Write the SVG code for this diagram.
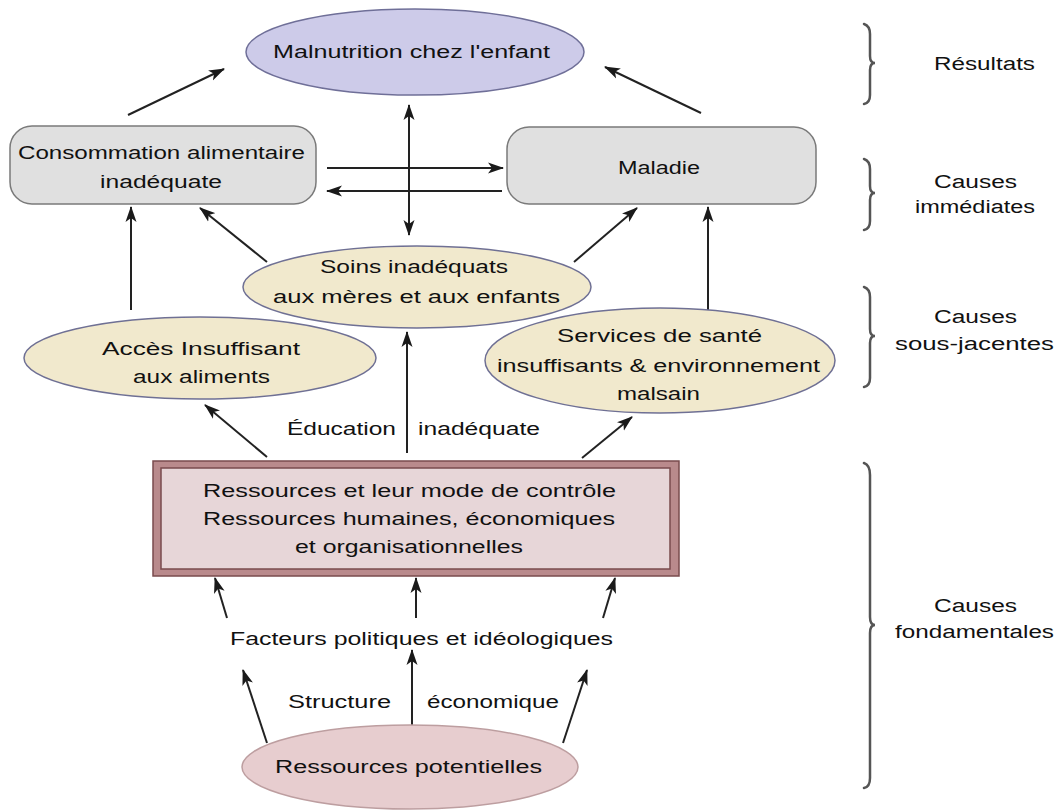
<svg xmlns="http://www.w3.org/2000/svg" width="1062" height="810" viewBox="0 0 1062 810">
<style>
text{font-family:"Liberation Sans",Arial,sans-serif;font-size:17.5px;fill:#111;text-anchor:middle}
.lbl{font-size:18px}
.st{text-anchor:start}
.gray{fill:#e0e0e0;stroke:#7a7a7a;stroke-width:1.5}
.beige{fill:#f1e9cd;stroke:#6f7094;stroke-width:1.5}
.arr{stroke:#222;stroke-width:2;fill:none;marker-end:url(#ah)}
.brace{fill:none;stroke:#555;stroke-width:2.5;stroke-linecap:round}
</style>
<defs>
<marker id="ah" markerUnits="userSpaceOnUse" markerWidth="16" markerHeight="12" viewBox="0 0 16 12" refX="15" refY="6" orient="auto-start-reverse">
<path d="M0,0.5 L16,6 L0,11.5 L4,6 Z" fill="#1a1a1a"/>
</marker>
</defs>
<rect width="1062" height="810" fill="#ffffff"/>

<g id="connectors">
<line class="arr" x1="128" y1="115" x2="224" y2="69"/>
<line class="arr" x1="701" y1="113" x2="605" y2="67"/>
<line class="arr" x1="409" y1="235" x2="409" y2="105" marker-start="url(#ah)"/>
<line class="arr" x1="327" y1="168" x2="503" y2="168"/>
<line class="arr" x1="502" y1="191" x2="327" y2="191"/>
<line class="arr" x1="131" y1="310" x2="131" y2="207"/>
<line class="arr" x1="267" y1="262" x2="200" y2="208"/>
<line class="arr" x1="574" y1="262" x2="637" y2="208"/>
<line class="arr" x1="708" y1="310" x2="708" y2="207"/>
<line class="arr" x1="407" y1="453" x2="407" y2="332"/>
<line class="arr" x1="267" y1="457" x2="205" y2="405"/>
<line class="arr" x1="582" y1="458" x2="632" y2="417"/>
<line class="arr" x1="227" y1="618" x2="215" y2="578"/>
<line class="arr" x1="416" y1="618" x2="416" y2="578"/>
<line class="arr" x1="603" y1="618" x2="615" y2="578"/>
<line class="arr" x1="267" y1="743" x2="243" y2="670"/>
<line class="arr" x1="412" y1="725" x2="412" y2="650"/>
<line class="arr" x1="563" y1="743" x2="587" y2="670"/>
</g>

<g id="malnutrition">
<ellipse cx="415" cy="52" rx="169" ry="43" fill="#cdcbe9" stroke="#6f6f98" stroke-width="1.5"/>
<text x="411.5" y="58" textLength="277" lengthAdjust="spacingAndGlyphs">Malnutrition chez l'enfant</text>
</g>

<g id="consommation">
<rect class="gray" x="10" y="126" width="306" height="78" rx="22" ry="22"/>
<text x="161.5" y="159" textLength="287" lengthAdjust="spacingAndGlyphs">Consommation alimentaire</text>
<text x="161" y="188" textLength="122" lengthAdjust="spacingAndGlyphs">inadéquate</text>
</g>

<g id="maladie">
<rect class="gray" x="507" y="127" width="309" height="77" rx="22" ry="22"/>
<text x="659" y="174" textLength="82" lengthAdjust="spacingAndGlyphs">Maladie</text>
</g>

<g id="soins">
<ellipse class="beige" cx="417" cy="287" rx="174" ry="41"/>
<text x="414" y="273" textLength="188" lengthAdjust="spacingAndGlyphs">Soins inadéquats</text>
<text x="416.5" y="303" textLength="287" lengthAdjust="spacingAndGlyphs">aux mères et aux enfants</text>
</g>

<g id="acces">
<ellipse class="beige" cx="200" cy="358" rx="176" ry="41"/>
<text x="201" y="355" textLength="198" lengthAdjust="spacingAndGlyphs">Accès Insuffisant</text>
<text x="201.5" y="383" textLength="137" lengthAdjust="spacingAndGlyphs">aux aliments</text>
</g>

<g id="services">
<ellipse class="beige" cx="660" cy="360.5" rx="175" ry="52.5"/>
<text x="659.5" y="342" textLength="205" lengthAdjust="spacingAndGlyphs">Services de santé</text>
<text x="658.5" y="372" textLength="323" lengthAdjust="spacingAndGlyphs">insuffisants &amp; environnement</text>
<text x="658.5" y="400" textLength="83" lengthAdjust="spacingAndGlyphs">malsain</text>
</g>

<g id="education-label">
<text class="st" x="287" y="435" textLength="109" lengthAdjust="spacingAndGlyphs">Éducation</text>
<text class="st" x="418" y="435" textLength="122" lengthAdjust="spacingAndGlyphs">inadéquate</text>
</g>

<g id="ressources">
<rect x="153" y="461" width="526" height="115" fill="#b98a8c" stroke="#7a4b4d" stroke-width="1.5"/>
<rect x="161" y="468" width="509" height="101" fill="#e7d6d8" stroke="#7a4b4d" stroke-width="1.5"/>
<text x="409.5" y="497" textLength="413" lengthAdjust="spacingAndGlyphs">Ressources et leur mode de contrôle</text>
<text x="409" y="525" textLength="412" lengthAdjust="spacingAndGlyphs">Ressources humaines, économiques</text>
<text x="409" y="553" textLength="228" lengthAdjust="spacingAndGlyphs">et organisationnelles</text>
</g>

<g id="facteurs">
<text x="421.5" y="645" textLength="383" lengthAdjust="spacingAndGlyphs">Facteurs politiques et idéologiques</text>
</g>

<g id="structure-label">
<text class="st" x="288" y="708" textLength="103" lengthAdjust="spacingAndGlyphs">Structure</text>
<text class="st" x="427" y="708" textLength="132" lengthAdjust="spacingAndGlyphs">économique</text>
</g>

<g id="potentielles">
<ellipse cx="410" cy="767" rx="168" ry="42" fill="#e7cdcf" stroke="#bd9ea0" stroke-width="1.5"/>
<text x="408.5" y="773" textLength="267" lengthAdjust="spacingAndGlyphs">Ressources potentielles</text>
</g>

<g id="braces">
<path class="brace" d="M864,24 Q870,26 870,34 L870,56 Q870,63 875,63 Q870,63 870,70 L870,95 Q870,103 864,104"/>
<path class="brace" d="M864,159 Q870,161 870,169 L870,186 Q870,193 875,193 Q870,193 870,200 L870,221 Q870,229 864,230"/>
<path class="brace" d="M864,287 Q870,289 870,297 L870,329 Q870,336 875,336 Q870,336 870,343 L870,378 Q870,386 864,387"/>
<path class="brace" d="M864,463 Q870,465 870,475 L870,617 Q870,625 875,625 Q870,625 870,633 L870,778 Q870,787 864,788"/>
</g>

<g id="labels">
<text class="lbl st" x="934" y="70" textLength="101" lengthAdjust="spacingAndGlyphs">Résultats</text>
<text class="lbl" x="975.5" y="188" textLength="83" lengthAdjust="spacingAndGlyphs">Causes</text>
<text class="lbl" x="975" y="213" textLength="120" lengthAdjust="spacingAndGlyphs">immédiates</text>
<text class="lbl" x="975.5" y="323" textLength="83" lengthAdjust="spacingAndGlyphs">Causes</text>
<text class="lbl" x="974.5" y="350" textLength="159" lengthAdjust="spacingAndGlyphs">sous-jacentes</text>
<text class="lbl" x="975.5" y="612" textLength="83" lengthAdjust="spacingAndGlyphs">Causes</text>
<text class="lbl" x="974.5" y="638" textLength="159" lengthAdjust="spacingAndGlyphs">fondamentales</text>
</g>
</svg>
